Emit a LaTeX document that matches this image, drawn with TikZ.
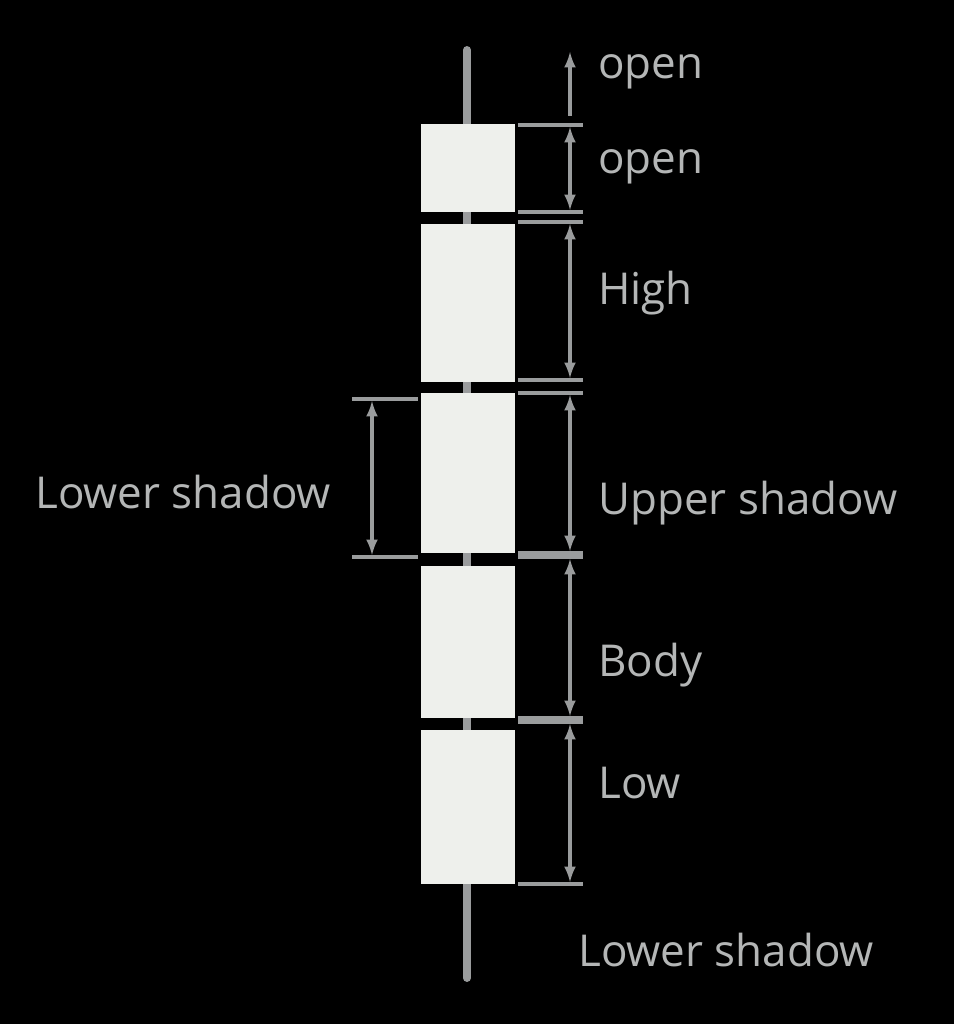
\documentclass[tikz,border=0pt]{standalone}
\usepackage{fontspec}
\setmainfont{Open Sans}
\definecolor{wick}{HTML}{9A9C9D}
\definecolor{bodyfill}{HTML}{EEF0EC}
\definecolor{labelgrey}{HTML}{B4B6B6}
\tikzset{
  lbl/.style={text=labelgrey, font=\fontsize{25}{28}\selectfont, anchor=west, inner sep=0pt},
  blk/.style={fill=bodyfill, draw=none},
  tick/.style={draw=wick, line width=2.2pt},
  dim/.style={draw=wick, line width=2pt, <->, >=latex}
}
\begin{document}
\begin{tikzpicture}[x=0.02cm,y=-0.02cm]
\useasboundingbox[fill=black] (0,0) rectangle (954,1024);
% wick
\draw[wick, line width=4.5pt, line cap=round] (467,50) -- (467,978);
% candle blocks
\fill[blk] (421,124) rectangle (515,212);
\fill[blk] (421,224) rectangle (515,382);
\fill[blk] (421,393) rectangle (515,553);
\fill[blk] (421,566) rectangle (515,718);
\fill[blk] (421,730) rectangle (515,884);
% tick marks on the right
\foreach \y/\n in {125/t0,212/t1,222/t1b,380/t2,393/t2b,553/t3,557/t3b,718/t4,722/t4b,884/t5}
  \draw[tick] (518,\y) -- (583,\y) coordinate[midway] (\n);
\coordinate (top) at (570,52);
\coordinate (t0up) at (570,116);
\draw[draw=wick, line width=2pt, ->, >=latex] (t0up) -- (top);
\draw[dim] (570,127) -- (570,210);
\draw[dim] (570,224) -- (570,378);
\draw[dim] (570,395) -- (570,551);
\draw[dim] (570,559) -- (570,716);
\draw[dim] (570,724) -- (570,882);
% left dimension
\draw[tick] (352,399) -- (418,399);
\draw[tick] (352,557) -- (418,557);
\draw[dim] (372,401) -- (372,555);
% labels
\node[lbl] (lopen1) at (598,72) {open};
\node[lbl] (lopen2) at (598,167) {open};
\node[lbl] (lhigh) at (598,293) {High};
\node[lbl] (lupper) at (598,503) {Upper shadow};
\node[lbl] (lbody) at (598,665) {Body};
\node[lbl] (llow) at (598,783) {Low};
\node[lbl] (llower) at (578,950) {Lower shadow};
\node[lbl] (lleft) at (35,492) {Lower shadow};
\end{tikzpicture}
\end{document}
